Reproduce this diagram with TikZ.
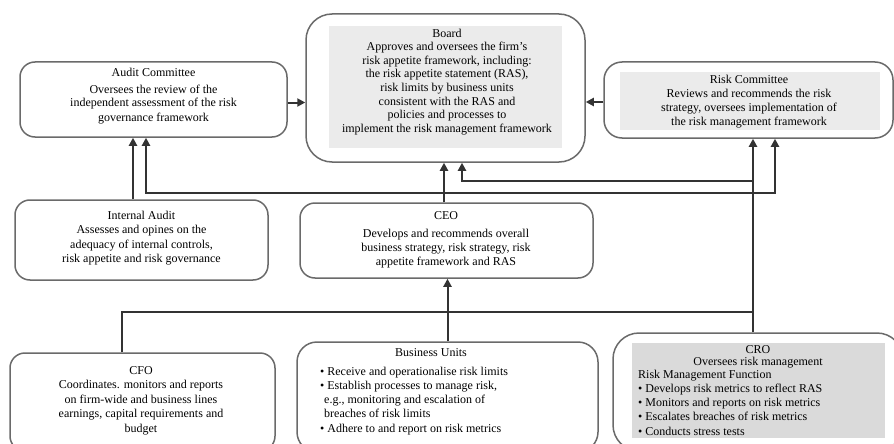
\documentclass[tikz,border=0pt]{standalone}
\usepackage{fontspec}
\setmainfont{Liberation Serif}
\usetikzlibrary{arrows.meta,calc}
\definecolor{bd}{HTML}{6A6A6A}
\definecolor{ln}{HTML}{333333}
\definecolor{pa}{HTML}{EBEBEB}
\definecolor{pb}{HTML}{DADADA}
\begin{document}
\begin{tikzpicture}[x=1pt,y=-1pt,
  box/.style={draw=bd,line width=1.5pt,rounded corners=#1,inner sep=0pt},
  box/.default=15pt,
  txt/.style={align=center,font=\fontsize{12}{#1}\selectfont,inner sep=0pt,anchor=base},
  ltxt/.style={align=left,font=\fontsize{12}{#1}\selectfont,inner sep=0pt,anchor=base west},
  panel/.style={fill=#1,draw=none,inner sep=0pt},
  conn/.style={draw=ln,line width=2pt},
  arr/.style={conn,-{Triangle[length=8pt,width=8pt]}},
  arrb/.style={conn,{Triangle[length=8pt,width=8pt]}-{Triangle[length=8pt,width=8pt]}}]
\useasboundingbox[fill=white] (0,0) rectangle (894,444);

% boxes
\node[box, minimum width=267pt, minimum height=75pt] (ac) at (153.5,99.5) {};
\node[box=26pt, minimum width=279pt, minimum height=148pt] (board) at (445.5,88) {};
\node[box=18pt, minimum width=289pt, minimum height=76pt] (rc) at (748.5,100) {};
\node[box, minimum width=253pt, minimum height=80pt] (ia) at (141.5,240) {};
\node[box, minimum width=293pt, minimum height=75pt] (ceo) at (446.5,240.5) {};
\node[box, minimum width=265pt, minimum height=98pt] (cfo) at (142.5,402) {};
\node[box=20pt, minimum width=301pt, minimum height=110pt] (bu) at (447.5,397) {};
\node[box=26pt, minimum width=290pt, minimum height=118pt] (cro) at (758,392) {};

% grey panels
\node[panel=pa, minimum width=233pt, minimum height=122pt] (pboard) at (445.5,87) {};
\node[panel=pa, minimum width=260pt, minimum height=58pt] (prc) at (750,101) {};
\node[panel=pb, minimum width=253pt, minimum height=95pt] (pcro) at (758.5,390.5) {};

% texts (anchor = baseline of the last line)
\node[txt=14] (tac) at (153.5,121) {Audit Committee\\[2pt]Oversees the review of the\\independent assessment of the risk\\governance framework};
\node[txt=13.6] (tboard) at (447,132.2) {Board\\Approves and oversees the firm’s\\risk appetite framework, including:\\the risk appetite statement (RAS),\\risk limits by business units\\consistent with the RAS and\\policies and processes to\\implement the risk management framework};
\node[txt=13.7] (trc) at (749,125) {Risk Committee\\Reviews and recommends the risk\\strategy, oversees implementation of\\the risk management framework};
\node[txt=14.5] (tia) at (141.5,262.5) {Internal Audit\\Assesses and opines on the\\adequacy of internal controls,\\risk appetite and risk governance};
\node[txt=14] (tceo) at (446,265) {CEO\\[4pt]Develops and recommends overall\\business strategy, risk strategy, risk\\appetite framework and RAS};
\node[txt=14.5] (tcfo) at (141,432) {CFO\\Coordinates. monitors and reports\\on firm-wide and business lines\\earnings, capital requirements and\\budget};
\node[txt=14] (tbu) at (431,356) {Business Units};
\node[ltxt=14.25] (lbu) at (320,432) {• Receive and operationalise risk limits\\• Establish processes to manage risk,\\\hspace*{4pt}e.g., monitoring and escalation of\\\hspace*{4pt}breaches of risk limits\\• Adhere to and report on risk metrics};
\node[txt=12] (tcro) at (758,365) {CRO\\Oversees risk management};
\node[ltxt=14.25] (lcro) at (638,435) {Risk Management Function\\• Develops risk metrics to reflect RAS\\• Monitors and reports on risk metrics\\• Escalates breaches of risk metrics\\• Conducts stress tests};

% helper coordinates
\coordinate (xa) at (133,0);
\coordinate (xb) at (146,0);
\coordinate (xc) at (444,0);
\coordinate (xd) at (462,0);
\coordinate (xe) at (753,0);
\coordinate (xf) at (775,0);
\coordinate (xg) at (122,0);
\coordinate (ya) at (0,181);
\coordinate (yb) at (0,193);
\coordinate (yc) at (0,312);
\coordinate (acp) at ($(ac.east)+(0,3)$);
\coordinate (rcp) at ($(rc.west)+(0,2)$);

% connectors
\draw[arr] (acp) -- (acp -| board.west);
\draw[arr] (rcp) -- (rcp -| board.east);
\draw[arr] (xa |- ia.north) -- (xa |- ac.south);
\draw[arr] (xc |- ceo.north) -- (xc |- board.south);
\draw[arrb] (xb |- ac.south) -- (xb |- yb) -- (xf |- yb) -- (xf |- rc.south);
\draw[arr] (xe |- cro.north) -- (xe |- rc.south);
\draw[arr] (xe |- ya) -- (xd |- ya) -- (xd |- board.south);
\draw[conn] (xg |- cfo.north) -- (xg |- yc) -- (xe |- yc);
\draw[arr] (bu.north) -- (bu.north |- ceo.south);
\end{tikzpicture}
\end{document}
